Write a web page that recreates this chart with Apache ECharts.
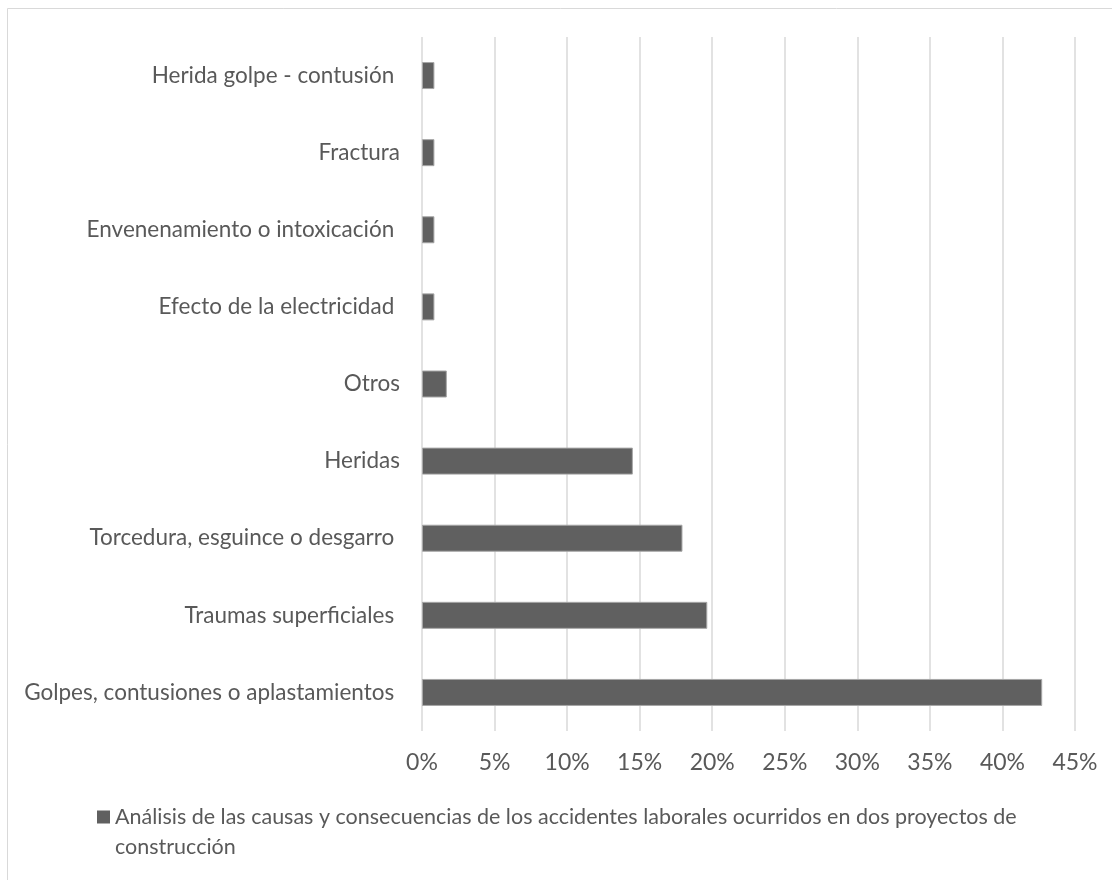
<!DOCTYPE html>
<html><head><meta charset="utf-8">
<script src="https://cdn.jsdelivr.net/npm/echarts@6/dist/echarts.min.js"></script>
<style>html,body{margin:0;padding:0;background:#fff}#c{width:1112px;height:880px}</style>
</head><body><div id="c"></div>
<script>
const categories = ["Golpes, contusiones o aplastamientos ", "Traumas superficiales ", "Torcedura, esguince o desgarro ", "Heridas", "Otros", "Efecto de la electricidad ", "Envenenamiento o intoxicación ", "Fractura", "Herida golpe - contusión "];
const values = [0.4274, 0.1966, 0.1795, 0.1453, 0.0171, 0.00855, 0.00855, 0.00855, 0.00855];
const seriesName = "Análisis de las causas y consecuencias de los accidentes laborales ocurridos en dos proyectos de\nconstrucción";
const xTicks = [0, 0.05, 0.10, 0.15, 0.20, 0.25, 0.30, 0.35, 0.40, 0.45];

const chart = echarts.init(document.getElementById('c'));
const font = 'Lato, "Open Sans", sans-serif';
chart.setOption({
  backgroundColor: '#fff',
  textStyle: {fontFamily: font},
  graphic: [{type: 'rect', shape: {x: 7.5, y: 8.5, width: 1200, height: 1000}, style: {fill: 'none', stroke: '#d9d9d9', lineWidth: 1}, silent: true}],
  grid: {left: 422, right: 37, top: 37, bottom: 149, containLabel: false},
  xAxis: {
    type: 'value', min: xTicks[0], max: xTicks[xTicks.length - 1], interval: 0.05,
    axisLine: {show: false}, axisTick: {show: false},
    splitLine: {lineStyle: {color: '#d9d9d9', width: 1.5}},
    axisLabel: {color: '#595959', fontSize: 23, fontFamily: font, margin: 20,
      formatter: v => Math.round(v * 100) + '%'}
  },
  yAxis: {
    type: 'category', data: categories,
    axisLine: {show: false}, axisTick: {show: false},
    axisLabel: {color: '#595959', fontSize: 22.5, fontFamily: font, margin: 22}
  },
  legend: {
    left: 92, top: 797, itemWidth: 13, itemHeight: 43, itemGap: 6,
    icon: 'path://M0,0L13,0L13,13L0,13Z M0,43L0.01,43',
    itemStyle: {borderWidth: 0},
    data: [seriesName],
    textStyle: {color: '#595959', fontSize: 21.5, fontFamily: font, lineHeight: 30}
  },
  series: [{
    type: 'bar', name: seriesName, data: values, barWidth: 27,
    itemStyle: {color: '#606060', borderColor: '#a6a6a6', borderWidth: 1},
    animation: false
  }]
});
</script></body></html>
